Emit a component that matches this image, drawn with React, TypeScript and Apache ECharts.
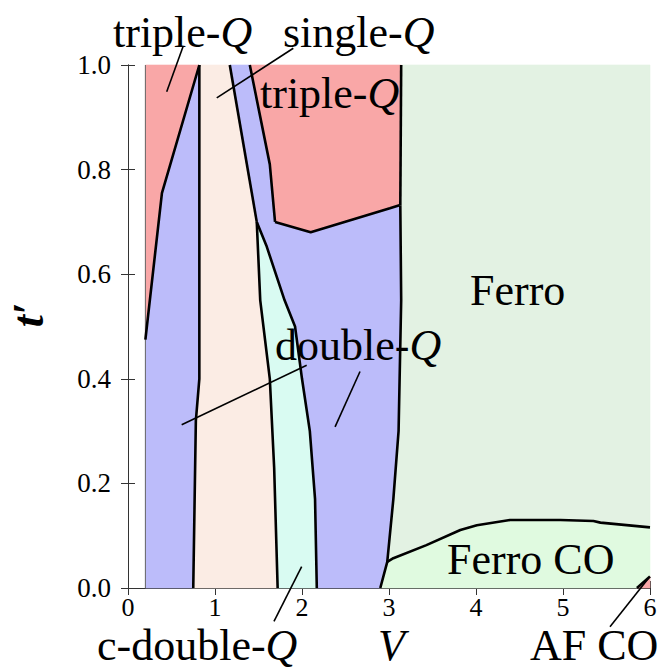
import React, { useEffect, useRef } from "react";
import * as echarts from "echarts";

// ---- axis ticks ----
const xTicks = [0, 1, 2, 3, 4, 5, 6];
const yTicks = [0, 0.2, 0.4, 0.6, 0.8, 1.0];

// ---- phase boundaries (V, t') ----
const leftEdge: number[][] = [[0.2, 0], [0.2, 1.0]];
const tripleLeftLine: number[][] = [[0.2, 0.475], [0.39, 0.755], [0.82, 1.0]];
const singleLeftLine: number[][] = [[0.82, 1.0], [0.82, 0.40], [0.78, 0.32], [0.75, 0]];
const singleRightTop: number[][] = [[1.17, 1.0], [1.48, 0.70]];
const singleRightBottom: number[][] = [[1.48, 0.70], [1.52, 0.55], [1.63, 0.40], [1.68, 0.23], [1.72, 0]];
const cDoubleRightLine: number[][] = [[1.48, 0.70], [1.59, 0.655], [1.80, 0.55], [1.92, 0.50], [2.0, 0.40], [2.09, 0.30], [2.15, 0.17], [2.17, 0]];
const tripleUpperLeftLine: number[][] = [[1.40, 1.0], [1.63, 0.81], [1.69, 0.70]];
const tripleBottomLine: number[][] = [[1.69, 0.70], [2.10, 0.68], [3.01, 0.726], [3.12, 0.732]];
const ferroUpperLine: number[][] = [[3.14, 1.0], [3.13, 0.732]];
const ferroLowerLine: number[][] = [[3.13, 0.732], [3.14, 0.55], [3.11, 0.30], [3.05, 0.17], [2.98, 0.05], [2.90, 0]];
const ferroCOTop: number[][] = [[2.98, 0.05], [3.05, 0.057], [3.43, 0.082], [3.82, 0.111], [4.01, 0.120], [4.39, 0.130], [4.97, 0.130], [5.35, 0.128], [5.43, 0.125], [6.0, 0.116]];
const afCOLine: number[][] = [[5.85, 0], [6.0, 0.022]];

// ---- annotation pointer lines ----
const ptrTripleLeft: number[][] = [[0.632, 1.035], [0.445, 0.949]];
const ptrSingle: number[][] = [[1.90, 1.032], [1.02, 0.937]];
const ptrDouble1: number[][] = [[2.054, 0.426], [0.617, 0.312]];
const ptrDouble2: number[][] = [[2.667, 0.414], [2.38, 0.308]];
const ptrCDouble: number[][] = [[1.996, 0.041], [1.678, -0.064]];
const ptrAFCO: number[][] = [[5.98, 0.018], [5.54, -0.074]];

// ---- colours ----
const RED = "#f9a7a7";
const BLUE = "#bcbcfa";
const BEIGE = "#fbece4";
const CYAN = "#d9fbf2";
const FERRO = "#e3f2e3";
const FERROCO = "#e0fae0";

const rev = (a: number[][]) => a.slice().reverse();

const regions = [
  { color: RED, pts: [[0.2, 1.0], ...rev(tripleLeftLine)] },
  { color: BLUE, pts: [...tripleLeftLine, ...singleLeftLine.slice(1), [0.2, 0]] },
  { color: BEIGE, pts: [...singleLeftLine.slice().reverse(), ...singleRightTop, ...singleRightBottom.slice(1)] },
  { color: CYAN, pts: [...singleRightBottom, ...rev(cDoubleRightLine).slice(0, -1)] },
  {
    color: BLUE,
    pts: [
      ...singleRightTop.slice(0, 1),
      ...tripleUpperLeftLine,
      ...tripleBottomLine.slice(1),
      ...ferroLowerLine,
      ...rev(cDoubleRightLine),
    ],
  },
  { color: RED, pts: [...tripleUpperLeftLine, ...tripleBottomLine.slice(1), [3.13, 0.732], [3.14, 1.0]] },
  { color: FERRO, pts: [[3.14, 1.0], [6.0, 1.0], ...rev(ferroCOTop), ...rev(ferroLowerLine.slice(0, 5))] },
  { color: FERROCO, pts: [[2.90, 0], ...ferroCOTop, ...rev(afCOLine)] },
  { color: RED, pts: [...afCOLine, [6.0, 0]] },
];

const FONT = "'Liberation Serif', serif";

export default function App() {
  const ref = useRef<HTMLDivElement>(null);
  useEffect(() => {
    if (!ref.current) return;
    const chart = echarts.init(ref.current, undefined, { renderer: "svg" });

    const boundary = (d: number[][], w = 2.6) => ({
      type: "line",
      data: d,
      symbol: "none",
      silent: true,
      z: 5,
      clip: true,
      lineStyle: { color: "#000", width: w },
    });
    const pointer = (d: number[][]) => ({
      type: "line",
      data: d,
      symbol: "none",
      silent: true,
      z: 6,
      clip: false,
      lineStyle: { color: "#000", width: 1.6 },
    });

    const label = (x: number, y: number, parts: [string, boolean][]) => ({
      type: "text",
      x,
      y,
      z: 100,
      style: {
        text: parts.map(([s, it]) => `{${it ? "q" : "n"}|${s}}`).join(""),
        align: "left",
        verticalAlign: "middle",
        rich: {
          n: { fontSize: 44, lineHeight: 44, fontFamily: FONT, fill: "#000" },
          q: { fontSize: 44, lineHeight: 44, fontFamily: FONT, fontStyle: "italic", fill: "#000" },
        },
      },
    });

    const axisCommon = {
      type: "value",
      axisLine: { show: true, lineStyle: { color: "#333", width: 1 } },
      axisTick: { show: true, inside: true, length: 7, lineStyle: { color: "#333", width: 1 } },
      splitLine: { show: false },
    };

    chart.setOption({
      animation: false,
      backgroundColor: "#fff",
      grid: { left: 128, top: 65, width: 522, height: 523 },
      xAxis: [
        {
          ...axisCommon,
          position: "bottom",
          min: xTicks[0],
          max: xTicks[xTicks.length - 1],
          interval: 1,
          axisLabel: { fontSize: 26, lineHeight: 24, fontFamily: FONT, color: "#000", margin: 7 },
        },
        {
          ...axisCommon,
          position: "top",
          min: xTicks[0],
          max: xTicks[xTicks.length - 1],
          interval: 1,
          axisLabel: { show: false },
        },
      ],
      yAxis: [
        {
          ...axisCommon,
          position: "left",
          min: yTicks[0],
          max: yTicks[yTicks.length - 1],
          interval: 0.2,
          axisLabel: {
            fontSize: 27,
            fontFamily: FONT,
            color: "#000",
            margin: 17,
            formatter: (v: number) => v.toFixed(1),
          },
        },
        {
          ...axisCommon,
          position: "right",
          min: yTicks[0],
          max: yTicks[yTicks.length - 1],
          interval: 0.2,
          axisLabel: { show: false },
        },
      ],
      series: [
        {
          type: "custom",
          silent: true,
          z: 1,
          data: regions.map((_, i) => [i]),
          renderItem: (params: any, api: any) => {
            const r = regions[params.dataIndex];
            const pts = r.pts.map((p) => api.coord(p));
            return {
              type: "polygon",
              shape: { points: pts },
              style: { fill: r.color, stroke: r.color, lineWidth: 0.6 },
            };
          },
        },
        { ...boundary(leftEdge, 1), lineStyle: { color: "#666", width: 1 } },
        boundary(tripleLeftLine),
        boundary(singleLeftLine),
        boundary(singleRightTop),
        boundary(singleRightBottom),
        boundary(cDoubleRightLine),
        boundary(tripleUpperLeftLine),
        boundary(tripleBottomLine),
        boundary(ferroUpperLine),
        boundary(ferroLowerLine),
        boundary(ferroCOTop),
        boundary(afCOLine),
        pointer(ptrTripleLeft),
        pointer(ptrSingle),
        pointer(ptrDouble1),
        pointer(ptrDouble2),
        pointer(ptrCDouble),
        pointer(ptrAFCO),
      ],
      graphic: [
        label(113, 32, [["triple-", false], ["Q", true]]),
        label(283, 32, [["single-", false], ["Q", true]]),
        label(260, 93, [["triple-", false], ["Q", true]]),
        label(470, 290, [["Ferro", false]]),
        label(275, 345, [["double-", false], ["Q", true]]),
        label(447, 559, [["Ferro CO", false]]),
        label(97, 645, [["c-double-", false], ["Q", true]]),
        label(378, 645, [["V", true]]),
        label(530, 645, [["AF CO", false]]),
        {
          type: "text",
          x: 28,
          y: 315,
          rotation: Math.PI / 2,
          z: 100,
          style: {
            text: "t\u2032",
            align: "center",
            verticalAlign: "middle",
            fontSize: 44,
            fontFamily: FONT,
            fontStyle: "italic",
            fontWeight: "bold",
            fill: "#000",
          },
        },
      ],
    });
    return () => chart.dispose();
  }, []);
  return (
    <div
      ref={ref}
      style={{ position: "fixed", left: 0, top: 0, width: 662, height: 669 }}
    />
  );
}
